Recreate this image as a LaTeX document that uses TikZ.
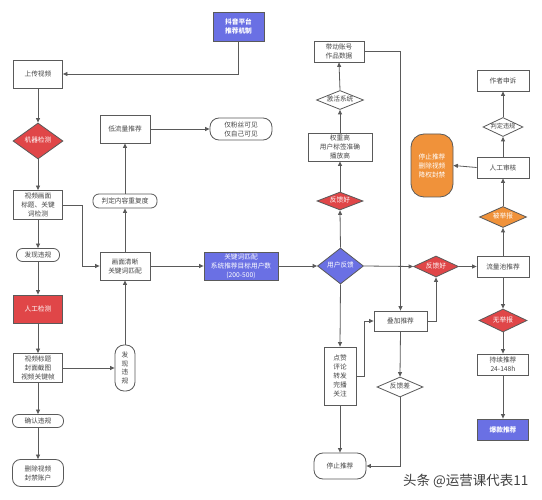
\documentclass[tikz,border=0pt]{standalone}
\usepackage{fontspec}
\setmainfont{Noto Sans CJK SC}
\usetikzlibrary{shapes.geometric,arrows.meta}
\definecolor{myred}{RGB}{224,70,72}
\definecolor{myblue}{RGB}{106,112,228}
\definecolor{myorange}{RGB}{240,146,58}
\definecolor{myline}{RGB}{90,90,90}
\definecolor{mytext}{RGB}{70,70,70}
\tikzset{
  base/.style={draw=myline, line width=0.8pt, inner sep=0pt, align=center,
    font=\fontsize{6.7}{9}\selectfont, text=mytext},
  box/.style={base, rectangle, fill=white},
  rbox/.style={base, rectangle, rounded corners=6pt, fill=white},
  dia/.style={base, diamond, fill=white, aspect=2.4, text height=4.5pt, text depth=1pt},
  redfill/.style={fill=myred, text=white},
  bluefill/.style={fill=myblue, text=white},
  orgfill/.style={fill=myorange, text=white},
  conn/.style={draw=myline, line width=0.8pt, -{Triangle[length=4.5pt,width=4pt]}},
  plain/.style={draw=myline, line width=0.8pt}
}
\begin{document}
\begin{tikzpicture}[x=1pt,y=-1pt]
\fill[white] (0,0) rectangle (542,500);
\useasboundingbox (0,0) rectangle (542,500);

% left column
\node[box, minimum width=49pt, minimum height=28pt] (up) at (38,74) {上传视频};
\node[dia, redfill, minimum width=50pt, minimum height=36pt] (jq) at (38,141) {机器检测};
\node[box, minimum width=49pt, minimum height=29pt] (spjc) at (38,205) {视频画面\\标题、关键\\词检测};
\node[rbox, minimum width=43pt, minimum height=13pt] (fxwg1) at (38,255) {发现违规};
\node[box, redfill, minimum width=49pt, minimum height=28pt] (rgjc) at (38,309) {人工检测};
\node[box, minimum width=49pt, minimum height=29pt] (spbt) at (38,368) {视频标题\\封面截图\\视频关键帧};
\node[rbox, minimum width=51pt, minimum height=13pt] (qrwg) at (38,421) {确认违规};
\node[rbox, rounded corners=8pt, minimum width=51pt, minimum height=27pt] (sc) at (38,473) {删除视频\\封禁账户};

% second column
\node[box, minimum width=50pt, minimum height=28pt] (dll) at (125,129) {低流量推荐};
\node[rbox, minimum width=64pt, minimum height=14pt] (pd) at (125,201) {判定内容重复度};
\node[box, minimum width=50pt, minimum height=28pt] (hm) at (125,266) {画面清晰\\关键词匹配};
\node[rbox, rounded corners=9pt, minimum width=20pt, minimum height=46pt,
  font=\fontsize{6.7}{8.5}\selectfont] (fxwg2) at (125,368) {发\\现\\违\\规};
\node[rbox, rounded corners=9pt, minimum width=62pt, minimum height=22pt] (jfs) at (241,129) {仅粉丝可见\\仅自己可见};
\node[box, bluefill, minimum width=51pt, minimum height=29pt,
  font=\bfseries\fontsize{6.7}{9}\selectfont] (dy) at (238.5,26.5) {抖音平台\\推荐机制};
\node[box, bluefill, minimum width=74pt, minimum height=28pt] (gjc) at (241,266) {关键词匹配\\系统推荐目标用户数\\(200-500)};

% third column
\node[dia, bluefill, minimum width=46pt, minimum height=36pt] (yhfk) at (340.5,266) {用户反馈};
\node[dia, redfill, minimum width=46pt, minimum height=18pt] (fkh1) at (340,201) {反馈好};
\node[box, minimum width=64pt, minimum height=28pt] (qzg) at (340,147) {权重高\\用户标签准确\\播放高};
\node[dia, minimum width=47pt, minimum height=19pt] (jhxt) at (340,100) {激活系统};
\node[box, minimum width=50pt, minimum height=21pt] (ddzh) at (339,51.5) {带动账号\\作品数据};
\node[box, minimum width=32pt, minimum height=58pt] (dzpl) at (340,376) {点赞\\评论\\转发\\完播\\关注};
\node[box, minimum width=53pt, minimum height=20pt] (djtj) at (400.5,321) {叠加推荐};
\node[dia, minimum width=46pt, minimum height=20pt] (fkc) at (400,387) {反馈差};
\node[rbox, rounded corners=9pt, minimum width=52pt, minimum height=26pt] (tztj) at (340,466) {停止推荐};

% right part
\node[dia, redfill, minimum width=45pt, minimum height=21pt] (fkh2) at (436,266.5) {反馈好};
\node[box, minimum width=52pt, minimum height=21pt] (lcl) at (503,266.5) {流量池推荐};
\node[dia, redfill, minimum width=48pt, minimum height=23pt] (wjb) at (503,320.5) {无举报};
\node[box, minimum width=51pt, minimum height=21pt] (cxtj) at (503,364.5) {持续推荐\\24-148h};
\node[box, bluefill, minimum width=51pt, minimum height=21pt,
  font=\bfseries\fontsize{6.7}{9}\selectfont] (bktj) at (503,429.5) {爆款推荐};
\node[dia, orgfill, minimum width=47pt, minimum height=21pt] (bjb) at (503,217) {被举报};
\node[box, minimum width=52pt, minimum height=21pt] (rgsh) at (503,167.5) {人工审核};
\node[dia, minimum width=40pt, minimum height=19pt, font=\fontsize{6.2}{8}\selectfont] (pdwg) at (503,127) {判定违规};
\node[box, minimum width=52pt, minimum height=21pt] (zzss) at (503,80.5) {作者申诉};
\node[base, rectangle, rounded corners=13pt, orgfill, minimum width=42pt, minimum height=63pt] (stop2) at (432,165.5) {停止推荐\\删除视频\\降权封禁};

% watermark
\node[font=\fontsize{13.5}{15}\selectfont, text=black!75, inner sep=0pt, anchor=west] (wm) at (403,481) {头条 @运营课代表11};

% connectors
\draw[conn] (dy.south) |- (up.east);
\draw[conn] (up) -- (jq);
\draw[conn] (jq) -- (spjc);
\draw[conn] (spjc) -- (fxwg1);
\draw[conn] (fxwg1) -- (rgjc);
\draw[conn] (rgjc) -- (spbt);
\draw[conn] (spbt) -- (qrwg);
\draw[conn] (qrwg) -- (sc);
\draw[conn] (spjc.east) -- ++(19,0) |- (hm.west);
\draw[conn] (spbt.east) -- (fxwg2.west);
\draw[conn] (fxwg2.north) -- (hm.south);
\draw[conn] (hm.north) -- (pd.south);
\draw[conn] (pd.north) -- (dll.south);
\draw[conn] (dll.east) -- (jfs.west);
\draw[conn] (hm.east) -- (gjc.west);
\draw[conn] (gjc.east) -- (yhfk.west);
\draw[conn] (yhfk.north) -- (fkh1.south);
\draw[conn] (fkh1.north) -- (qzg.south);
\draw[conn] (qzg.north) -- (jhxt.south);
\draw[conn] (jhxt.north) -- (ddzh.south);
\draw[conn] (ddzh.east) -| (djtj.north);
\draw[conn] (yhfk.east) -- (fkh2.west);
\draw[conn] (fkh2.east) -- (lcl.west);
\draw[conn] (yhfk.south) -- (dzpl.north);
\draw[conn] (dzpl.east) -- ++(8,0) |- (djtj.west);
\draw[conn] (djtj.east) -| (fkh2.south);
\draw[conn] (djtj.south) -- (fkc.north);
\draw[conn] (fkc.south) |- (tztj.east);
\draw[conn] (dzpl.south) -- (tztj.north);
\draw[conn] (lcl.north) -- (bjb.south);
\draw[conn] (bjb.north) -- (rgsh.south);
\draw[conn] (rgsh.north) -- (pdwg.south);
\draw[conn] (pdwg.north) -- (zzss.south);
\draw[conn] (rgsh.west) -- (stop2.east);
\draw[conn] (lcl.south) -- (wjb.north);
\draw[conn] (wjb.south) -- (cxtj.north);
\draw[conn] (cxtj.south) -- (bktj.north);
\end{tikzpicture}
\end{document}
